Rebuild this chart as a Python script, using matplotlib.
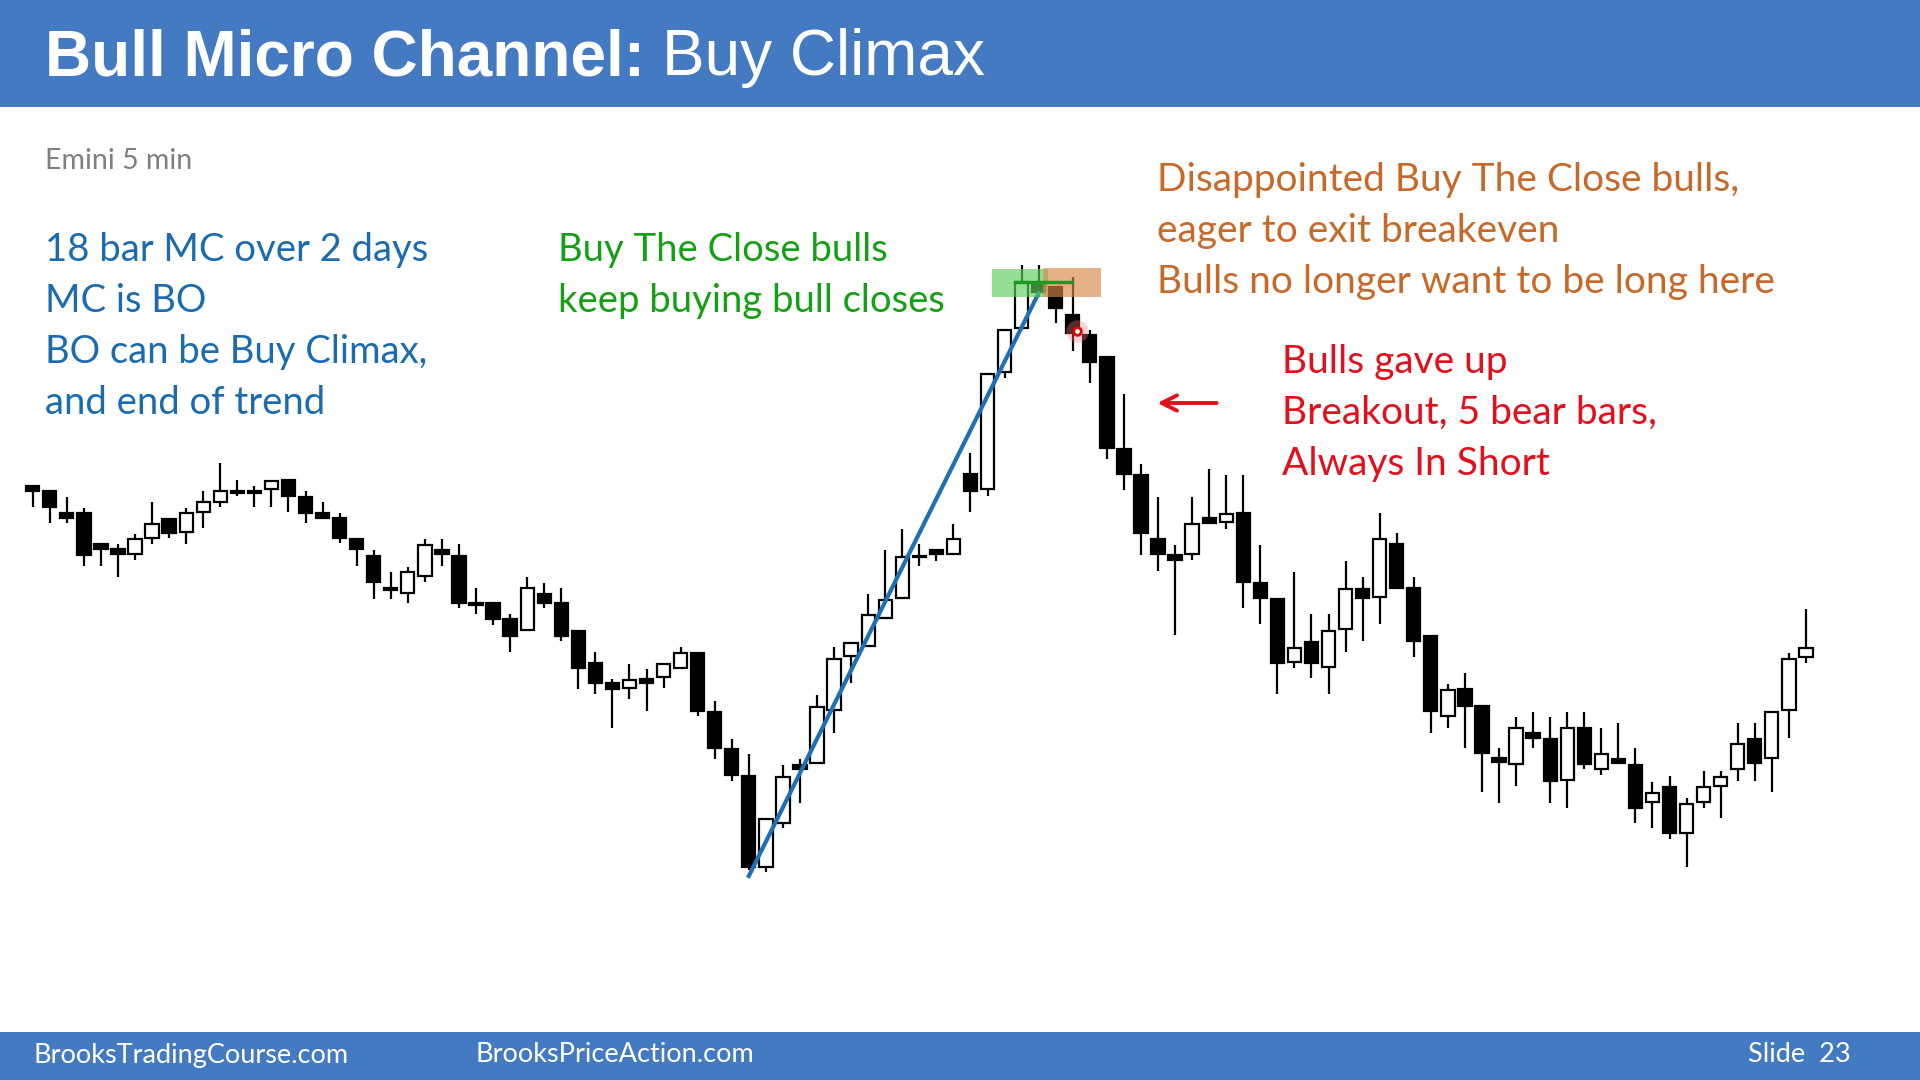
import matplotlib
matplotlib.use("Agg")
import matplotlib.pyplot as plt
from matplotlib.patches import Rectangle

# Emini 5 min bars, prices (arbitrary point scale)
opens = [514, 509, 487, 487, 456, 451, 446, 462, 481, 468,
         488, 498, 509, 509, 511, 520, 503, 487, 482, 461,
         444, 412, 407, 424, 450, 444, 397, 397, 381, 370,
         406, 397, 369, 337, 317, 312, 321, 323, 332, 347,
         288, 251, 224, 133, 177, 235, 237, 290, 344, 354,
         382, 402, 444, 450, 446, 526, 511, 628, 672, 715,
         713, 685, 665, 643, 551, 525, 461, 445, 446, 482,
         478, 487, 417, 401, 338, 358, 333, 371, 411, 403,
         456, 412, 364, 284, 311, 294, 242, 236, 267, 261,
         220, 272, 231, 241, 235, 198, 213, 167, 198, 214,
         231, 261, 242, 290, 343]
highs = [514, 509, 503, 492, 456, 456, 466, 498, 481, 492,
         509, 537, 520, 514, 519, 520, 509, 498, 487, 461,
         450, 428, 433, 461, 461, 456, 412, 397, 386, 423,
         417, 412, 369, 348, 321, 336, 331, 336, 353, 347,
         299, 261, 246, 181, 235, 241, 305, 353, 357, 406,
         450, 471, 456, 450, 476, 547, 626, 670, 735, 735,
         713, 723, 670, 643, 606, 536, 503, 455, 503, 531,
         525, 525, 455, 401, 428, 386, 386, 439, 423, 487,
         467, 423, 364, 316, 327, 294, 252, 283, 288, 283,
         288, 288, 272, 277, 252, 218, 224, 202, 229, 229,
         277, 277, 288, 347, 391]
lows = [493, 477, 477, 434, 434, 423, 440, 456, 462, 456,
        472, 493, 504, 493, 493, 488, 477, 482, 457, 434,
        401, 401, 397, 418, 434, 392, 386, 375, 348, 370,
        392, 359, 311, 306, 272, 301, 289, 312, 332, 284,
        241, 219, 130, 128, 172, 197, 237, 267, 317, 354,
        382, 402, 434, 439, 446, 488, 504, 622, 672, 703,
        677, 649, 617, 541, 510, 445, 429, 365, 440, 477,
        471, 392, 376, 306, 332, 322, 306, 348, 359, 376,
        412, 343, 267, 272, 252, 208, 197, 214, 252, 197,
        192, 231, 225, 237, 177, 172, 161, 133, 192, 182,
        219, 219, 208, 262, 337]
closes = [509, 493, 482, 445, 451, 446, 461, 476, 467, 487,
          498, 509, 507, 507, 519, 504, 487, 482, 462, 451,
          418, 410, 428, 455, 446, 397, 395, 381, 364, 412,
          397, 364, 332, 317, 311, 320, 317, 336, 347, 289,
          252, 225, 133, 181, 223, 231, 293, 341, 357, 385,
          400, 443, 443, 446, 461, 509, 626, 670, 718, 708,
          692, 667, 638, 552, 526, 467, 446, 440, 476, 477,
          486, 418, 402, 337, 352, 337, 369, 411, 402, 461,
          412, 359, 289, 310, 294, 247, 238, 272, 262, 219,
          272, 236, 246, 237, 192, 207, 167, 196, 213, 223,
          256, 237, 288, 341, 352]

# trend line of the micro channel (bar index, price)
trend_x = [42, 59]
trend_y = [124, 707]

blue_lines = ["18 bar MC over 2 days", "MC is BO",
              "BO can be Buy Climax,", "and end of trend"]
green_lines = ["Buy The Close bulls", "keep buying bull closes"]
orange_lines = ["Disappointed Buy The Close bulls,",
                "eager to exit breakeven",
                "Bulls no longer want to be long here"]
red_lines = ["Bulls gave up", "Breakout, 5 bear bars,", "Always In Short"]

band = '#447AC1'
body_font = 'Lato'

fig = plt.figure(figsize=(19.2, 10.8), dpi=100)
fig.patch.set_facecolor('white')
ax = fig.add_axes([0, 0, 1, 1])
ax.set_xlim(-1.918, 110.69)
ax.set_ylim(-80, 1000)
ax.axis('off')

n = len(opens)
ax.vlines(range(n), lows, highs, color='black', lw=1.6, zorder=2)
for i in range(n):
    o, c = opens[i], closes[i]
    bull = c >= o
    ax.bar(i, max(abs(c - o), 1), bottom=min(o, c), width=0.78,
           color='white' if bull else 'black', edgecolor='black',
           lw=1.6, zorder=3)

ax.plot(trend_x, trend_y, color='#1F6FB4', lw=3, zorder=4)

# buy the close zone and failed follow-through zone
ax.add_patch(Rectangle((56.26, 703), 3.3, 28, facecolor='#5CCF5C',
                       alpha=0.65, lw=0, zorder=5))
ax.add_patch(Rectangle((59.26, 703), 3.4, 29, facecolor='#D8884A',
                       alpha=0.65, lw=0, zorder=5))
ax.plot([57.6, 60.95], [718, 718], color='#1E9B1E', lw=2.5, zorder=6)
ax.scatter([61.25], [669], s=260, color='#ff8080', alpha=0.35, lw=0, zorder=6)
ax.scatter([61.25], [669], s=30, facecolors='white', edgecolors='#e00000',
           lw=2, zorder=7)

ax.annotate('', xy=(65.8, 597), xytext=(69.6, 597),
            arrowprops=dict(arrowstyle='->, head_length=1.1, head_width=0.55',
                            color='#E3101C', lw=2.8))


def fx(x):
    return x / 1920


def fy(y):
    return 1 - y / 1080


# header and footer bands
fig.add_artist(Rectangle((0, fy(107)), 1, 107 / 1080, transform=fig.transFigure,
                         facecolor=band, lw=0, zorder=0))
fig.add_artist(Rectangle((0, 0), 1, 48 / 1080, transform=fig.transFigure,
                         facecolor=band, lw=0, zorder=0))

fig.text(fx(45), fy(58), "Bull Micro Channel:", color='white', fontsize=46,
         weight='bold', family='Liberation Sans', va='center')
fig.text(fx(662), fy(58), "Buy Climax", color='white', fontsize=46,
         family='Liberation Sans', va='center')

fig.text(fx(34), fy(1055), "BrooksTradingCourse.com", color='white',
         fontsize=19.5, family=body_font, va='center')
fig.text(fx(475), fy(1055), "BrooksPriceAction.com", color='white',
         fontsize=19.5, family=body_font, va='center')
fig.text(fx(1851), fy(1055), "Slide  23", color='white',
         fontsize=19.5, family=body_font, va='center', ha='right')

fig.text(fx(45), fy(161), "Emini 5 min", color='#7F7F7F', fontsize=20.5,
         family=body_font, va='center')

for k, s in enumerate(blue_lines):
    fig.text(fx(45), fy(250 + 51 * k), s, color='#1A6BB0', fontsize=27.5,
             family=body_font, va='center')
for k, s in enumerate(green_lines):
    fig.text(fx(558), fy(250 + 51 * k), s, color='#13A013', fontsize=27.5,
             family=body_font, va='center')
for k, s in enumerate(orange_lines):
    fig.text(fx(1157), fy(180 + 51 * k), s, color='#C8692A', fontsize=28,
             family=body_font, va='center')
for k, s in enumerate(red_lines):
    fig.text(fx(1282), fy(362 + 51 * k), s, color='#E3101C', fontsize=28,
             family=body_font, va='center')

fig.savefig('out.png', dpi=100, facecolor='white')
